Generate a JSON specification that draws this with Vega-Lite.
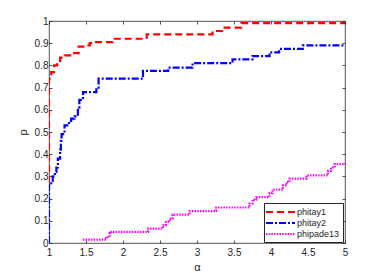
{
  "$schema": "https://vega.github.io/schema/vega-lite/v6.json",
  "width": 296,
  "height": 222,
  "autosize": {"type": "none"},
  "padding": {"left": 49, "top": 21, "right": 37, "bottom": 30},
  "background": "white",
  "config": {
    "font": "Liberation Sans",
    "view": {"stroke": "#262626", "strokeWidth": 0.8},
    "axis": {"domain": false, "grid": false, "labelFont": "Liberation Sans", "labelFontSize": 10, "labelColor": "#262626", "tickColor": "#262626", "tickSize": -3, "tickWidth": 0.8, "titleFont": "Liberation Sans", "titleFontSize": 11, "titleFontWeight": "normal", "titleColor": "#262626"},
    "legend": {"symbolType": "M-1.4,0H4.4", "symbolSize": 100, "symbolStrokeWidth": 2, "labelFontSize": 9, "labelFont": "Liberation Sans", "labelColor": "#262626", "strokeColor": "#262626", "fillColor": "white", "padding": 3, "rowPadding": 0, "labelOffset": 18}
  },
  "data": {"values": [
    {"s": "phitay1", "k": 0, "x": 1.0, "p": 0.27},
    {"s": "phitay1", "k": 1, "x": 1.0, "p": 0.74},
    {"s": "phitay1", "k": 2, "x": 1.03, "p": 0.77},
    {"s": "phitay1", "k": 3, "x": 1.07, "p": 0.80},
    {"s": "phitay1", "k": 4, "x": 1.11, "p": 0.82},
    {"s": "phitay1", "k": 5, "x": 1.15, "p": 0.835},
    {"s": "phitay1", "k": 6, "x": 1.21, "p": 0.845},
    {"s": "phitay1", "k": 7, "x": 1.34, "p": 0.855},
    {"s": "phitay1", "k": 8, "x": 1.40, "p": 0.885},
    {"s": "phitay1", "k": 9, "x": 1.48, "p": 0.89},
    {"s": "phitay1", "k": 10, "x": 1.55, "p": 0.90},
    {"s": "phitay1", "k": 11, "x": 1.59, "p": 0.905},
    {"s": "phitay1", "k": 12, "x": 1.86, "p": 0.92},
    {"s": "phitay1", "k": 13, "x": 2.32, "p": 0.94},
    {"s": "phitay1", "k": 14, "x": 3.21, "p": 0.955},
    {"s": "phitay1", "k": 15, "x": 3.34, "p": 0.97},
    {"s": "phitay1", "k": 16, "x": 3.60, "p": 0.99},
    {"s": "phitay1", "k": 17, "x": 5.0, "p": 0.99},
    {"s": "phitay2", "k": 0, "x": 1.0, "p": 0.0},
    {"s": "phitay2", "k": 1, "x": 1.0, "p": 0.26},
    {"s": "phitay2", "k": 2, "x": 1.03, "p": 0.28},
    {"s": "phitay2", "k": 3, "x": 1.05, "p": 0.30},
    {"s": "phitay2", "k": 4, "x": 1.08, "p": 0.32},
    {"s": "phitay2", "k": 5, "x": 1.10, "p": 0.34},
    {"s": "phitay2", "k": 6, "x": 1.12, "p": 0.38},
    {"s": "phitay2", "k": 7, "x": 1.15, "p": 0.42},
    {"s": "phitay2", "k": 8, "x": 1.16, "p": 0.46},
    {"s": "phitay2", "k": 9, "x": 1.17, "p": 0.49},
    {"s": "phitay2", "k": 10, "x": 1.21, "p": 0.53},
    {"s": "phitay2", "k": 11, "x": 1.27, "p": 0.55},
    {"s": "phitay2", "k": 12, "x": 1.30, "p": 0.56},
    {"s": "phitay2", "k": 13, "x": 1.345, "p": 0.57},
    {"s": "phitay2", "k": 14, "x": 1.39, "p": 0.61},
    {"s": "phitay2", "k": 15, "x": 1.41, "p": 0.645},
    {"s": "phitay2", "k": 16, "x": 1.46, "p": 0.68},
    {"s": "phitay2", "k": 17, "x": 1.64, "p": 0.70},
    {"s": "phitay2", "k": 18, "x": 1.67, "p": 0.74},
    {"s": "phitay2", "k": 19, "x": 2.27, "p": 0.775},
    {"s": "phitay2", "k": 20, "x": 2.61, "p": 0.79},
    {"s": "phitay2", "k": 21, "x": 2.94, "p": 0.81},
    {"s": "phitay2", "k": 22, "x": 3.48, "p": 0.827},
    {"s": "phitay2", "k": 23, "x": 3.75, "p": 0.842},
    {"s": "phitay2", "k": 24, "x": 3.98, "p": 0.859},
    {"s": "phitay2", "k": 25, "x": 4.11, "p": 0.874},
    {"s": "phitay2", "k": 26, "x": 4.43, "p": 0.89},
    {"s": "phitay2", "k": 27, "x": 5.0, "p": 0.89},
    {"s": "phipade13", "k": 0, "x": 1.457, "p": 0.015},
    {"s": "phipade13", "k": 1, "x": 1.77, "p": 0.027},
    {"s": "phipade13", "k": 2, "x": 1.82, "p": 0.045},
    {"s": "phipade13", "k": 3, "x": 1.84, "p": 0.05},
    {"s": "phipade13", "k": 4, "x": 2.34, "p": 0.065},
    {"s": "phipade13", "k": 5, "x": 2.54, "p": 0.08},
    {"s": "phipade13", "k": 6, "x": 2.58, "p": 0.095},
    {"s": "phipade13", "k": 7, "x": 2.63, "p": 0.11},
    {"s": "phipade13", "k": 8, "x": 2.67, "p": 0.128},
    {"s": "phipade13", "k": 9, "x": 2.90, "p": 0.144},
    {"s": "phipade13", "k": 10, "x": 3.26, "p": 0.16},
    {"s": "phipade13", "k": 11, "x": 3.71, "p": 0.178},
    {"s": "phipade13", "k": 12, "x": 3.75, "p": 0.195},
    {"s": "phipade13", "k": 13, "x": 3.80, "p": 0.207},
    {"s": "phipade13", "k": 14, "x": 3.98, "p": 0.225},
    {"s": "phipade13", "k": 15, "x": 4.02, "p": 0.24},
    {"s": "phipade13", "k": 16, "x": 4.16, "p": 0.26},
    {"s": "phipade13", "k": 17, "x": 4.21, "p": 0.275},
    {"s": "phipade13", "k": 18, "x": 4.25, "p": 0.29},
    {"s": "phipade13", "k": 19, "x": 4.48, "p": 0.305},
    {"s": "phipade13", "k": 20, "x": 4.77, "p": 0.325},
    {"s": "phipade13", "k": 21, "x": 4.81, "p": 0.34},
    {"s": "phipade13", "k": 22, "x": 4.86, "p": 0.355},
    {"s": "phipade13", "k": 23, "x": 5.0, "p": 0.36}
  ]},
  "layer": [
    {
      "mark": {"type": "line", "interpolate": "step-after", "strokeWidth": 2.2, "clip": true},
      "encoding": {
        "x": {"field": "x", "type": "quantitative", "scale": {"domain": [1, 5], "nice": false, "zero": false},
              "axis": {"title": "α", "format": ".1~f", "values": [1, 1.5, 2, 2.5, 3, 3.5, 4, 4.5, 5], "labelPadding": 7, "titlePadding": 4, "labelFlush": false}},
        "y": {"field": "p", "type": "quantitative", "scale": {"domain": [0, 1], "nice": false},
              "axis": {"title": "p", "format": ".1~f", "values": [0, 0.1, 0.2, 0.3, 0.4, 0.5, 0.6, 0.7, 0.8, 0.9, 1], "labelPadding": 4, "titlePadding": 6, "labelFlush": false}},
        "order": {"field": "k", "type": "quantitative"},
        "color": {"field": "s", "type": "nominal",
                  "scale": {"domain": ["phitay1", "phitay2", "phipade13"], "range": ["#FF0000", "#0000FF", "#FF00FF"]},
                  "legend": {"title": null, "orient": "none", "legendX": 215, "legendY": 182}},
        "strokeDash": {"field": "s", "type": "nominal",
                  "scale": {"domain": ["phitay1", "phitay2", "phipade13"], "range": [[7, 4], [7, 2, 2, 2], [1.5, 1.2]]},
                  "legend": {"title": null, "orient": "none", "legendX": 215, "legendY": 182}}
      }
    },
    {
      "mark": {"type": "line", "opacity": 0},
      "encoding": {
        "x": {"field": "x", "type": "quantitative", "scale": {"domain": [1, 5], "nice": false, "zero": false},
              "axis": {"orient": "top", "title": null, "labels": false, "values": [1, 1.5, 2, 2.5, 3, 3.5, 4, 4.5, 5]}},
        "y": {"field": "p", "type": "quantitative", "scale": {"domain": [0, 1], "nice": false},
              "axis": {"orient": "right", "title": null, "labels": false, "values": [0, 0.1, 0.2, 0.3, 0.4, 0.5, 0.6, 0.7, 0.8, 0.9, 1]}},
        "detail": {"field": "s", "type": "nominal"}
      }
    }
  ],
  "resolve": {"scale": {"x": "independent", "y": "independent"}}
}
